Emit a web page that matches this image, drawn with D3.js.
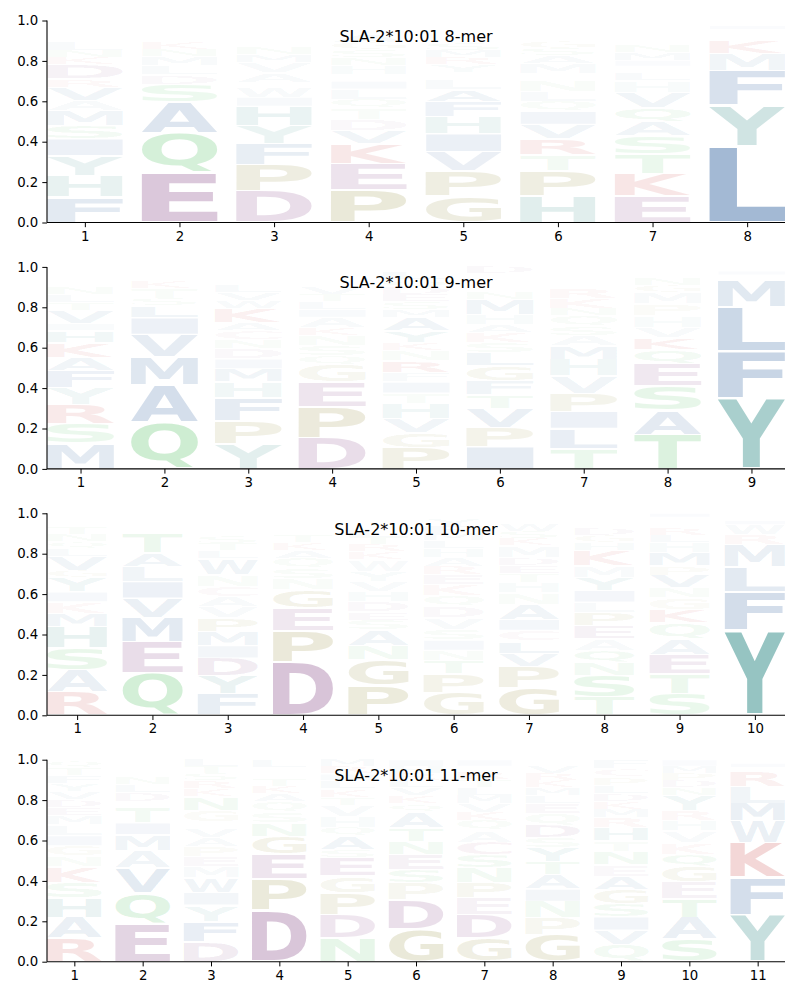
<!DOCTYPE html>
<html><head><meta charset="utf-8">
<script src="https://cdn.jsdelivr.net/npm/d3@7"></script>
<style>body{margin:0;background:#fff;} svg{display:block;}</style>
</head><body>
<svg id="chart" width="800" height="1000"></svg>
<script>
// ---------- DATA ----------
const titles = ["SLA-2*10:01 8-mer","SLA-2*10:01 9-mer","SLA-2*10:01 10-mer","SLA-2*10:01 11-mer"];
const yTicks = [0.0,0.2,0.4,0.6,0.8,1.0];
// each column: letters listed bottom -> top with their frequency
const logo8mer = [
 [["F",0.125],["H",0.105],["Y",0.10],["I",0.085],["S",0.065],["M",0.075],["A",0.05],["V",0.065],["R",0.04],["D",0.07],["K",0.035],["N",0.035],["L",0.045],["T",0.03],["G",0.025],["Q",0.025],["E",0.025]],
 [["E",0.245],["Q",0.20],["A",0.15],["S",0.09],["D",0.045],["L",0.045],["M",0.045],["N",0.035],["K",0.035],["T",0.03],["G",0.03],["R",0.025],["V",0.025]],
 [["D",0.155],["P",0.13],["F",0.105],["Y",0.09],["H",0.095],["I",0.045],["W",0.05],["R",0.025],["A",0.045],["V",0.05],["M",0.04],["N",0.035],["K",0.03],["L",0.03],["S",0.025],["T",0.02],["G",0.015],["Q",0.015]],
 [["P",0.16],["E",0.13],["K",0.10],["V",0.065],["D",0.055],["T",0.055],["Q",0.045],["L",0.05],["I",0.04],["R",0.03],["H",0.045],["N",0.04],["S",0.04],["G",0.035],["A",0.035],["M",0.03],["F",0.025],["Y",0.02]],
 [["G",0.13],["P",0.125],["V",0.095],["I",0.09],["H",0.085],["F",0.075],["A",0.06],["L",0.05],["T",0.03],["Y",0.04],["R",0.035],["M",0.035],["S",0.035],["N",0.03],["K",0.03],["E",0.03],["Q",0.025]],
 [["H",0.13],["P",0.125],["T",0.08],["R",0.08],["V",0.07],["I",0.065],["Q",0.05],["L",0.05],["N",0.055],["K",0.03],["M",0.05],["A",0.04],["S",0.035],["G",0.035],["E",0.03],["D",0.03],["F",0.025],["Y",0.02]],
 [["E",0.13],["K",0.11],["T",0.10],["S",0.09],["A",0.07],["Q",0.07],["V",0.075],["H",0.058],["L",0.04],["R",0.03],["I",0.03],["M",0.04],["N",0.035],["G",0.03],["F",0.03],["Y",0.032],["D",0.03]],
 [["L",0.38],["Y",0.20],["F",0.17],["M",0.085],["K",0.065],["W",0.03],["R",0.025],["I",0.02],["V",0.025]]
];
const logo9mer = [
 [["M",0.125],["S",0.10],["R",0.095],["Y",0.083],["F",0.083],["A",0.066],["K",0.073],["H",0.06],["I",0.035],["V",0.065],["T",0.04],["L",0.04],["N",0.035],["E",0.03],["G",0.025],["Q",0.025],["D",0.02]],
 [["Q",0.23],["A",0.185],["M",0.14],["V",0.11],["I",0.083],["L",0.06],["S",0.035],["T",0.05],["K",0.035],["E",0.03],["N",0.022],["G",0.02]],
 [["Y",0.125],["P",0.115],["F",0.11],["H",0.08],["M",0.065],["I",0.05],["D",0.05],["N",0.045],["C",0.045],["A",0.04],["K",0.07],["W",0.04],["V",0.04],["L",0.035],["S",0.03],["T",0.025],["G",0.02],["E",0.015]],
 [["D",0.155],["P",0.15],["E",0.125],["G",0.085],["Q",0.045],["S",0.05],["N",0.05],["K",0.04],["A",0.05],["I",0.04],["L",0.04],["T",0.035],["V",0.035],["M",0.03],["H",0.025],["F",0.025],["Y",0.02]],
 [["P",0.105],["G",0.075],["V",0.07],["H",0.075],["T",0.05],["I",0.055],["F",0.045],["R",0.06],["N",0.05],["K",0.04],["Y",0.06],["A",0.065],["M",0.04],["S",0.04],["E",0.035],["D",0.035],["Q",0.035],["L",0.035],["W",0.03]],
 [["I",0.11],["P",0.095],["V",0.095],["T",0.065],["F",0.07],["G",0.075],["L",0.065],["S",0.05],["K",0.05],["A",0.04],["H",0.05],["M",0.075],["N",0.035],["R",0.03],["Q",0.03],["E",0.03],["D",0.035]],
 [["T",0.10],["L",0.10],["I",0.085],["P",0.088],["V",0.086],["H",0.083],["M",0.066],["A",0.053],["S",0.046],["Q",0.05],["N",0.035],["K",0.05],["R",0.05],["E",0.03],["G",0.03],["F",0.028],["Y",0.02]],
 [["T",0.17],["A",0.12],["S",0.12],["E",0.11],["Q",0.07],["K",0.06],["V",0.05],["H",0.058],["P",0.058],["M",0.058],["G",0.035],["N",0.035],["R",0.03],["D",0.026]],
 [["Y",0.35],["F",0.23],["L",0.22],["M",0.13],["W",0.03],["I",0.02],["V",0.02]]
];
const logo10mer = [
 [["R",0.115],["A",0.11],["S",0.107],["H",0.105],["M",0.066],["K",0.058],["I",0.05],["Y",0.07],["G",0.035],["V",0.068],["L",0.04],["Q",0.035],["N",0.035],["T",0.035],["E",0.03],["D",0.021],["P",0.02]],
 [["Q",0.207],["E",0.155],["M",0.123],["V",0.095],["I",0.083],["L",0.075],["A",0.066],["T",0.10],["S",0.03],["K",0.025],["R",0.02],["G",0.021]],
 [["F",0.105],["Y",0.09],["D",0.088],["I",0.062],["M",0.07],["P",0.066],["V",0.058],["A",0.05],["C",0.05],["N",0.055],["W",0.08],["L",0.04],["T",0.035],["S",0.035],["K",0.03],["G",0.03],["Q",0.03],["E",0.026]],
 [["D",0.265],["P",0.155],["E",0.11],["G",0.09],["N",0.058],["S",0.05],["Q",0.05],["A",0.04],["K",0.035],["T",0.035],["R",0.03],["V",0.03],["L",0.027],["H",0.025]],
 [["P",0.146],["G",0.13],["N",0.07],["A",0.075],["S",0.05],["E",0.04],["D",0.05],["H",0.05],["V",0.05],["Y",0.05],["W",0.058],["K",0.04],["R",0.035],["T",0.035],["L",0.035],["Q",0.03],["M",0.03],["F",0.026]],
 [["G",0.113],["P",0.093],["T",0.066],["N",0.05],["I",0.05],["S",0.053],["V",0.058],["D",0.055],["Q",0.053],["K",0.055],["E",0.05],["R",0.041],["A",0.046],["H",0.041],["L",0.04],["M",0.035],["F",0.035],["Y",0.035],["W",0.031]],
 [["G",0.138],["P",0.103],["V",0.066],["L",0.06],["C",0.053],["I",0.055],["A",0.075],["N",0.055],["H",0.05],["T",0.045],["E",0.04],["D",0.04],["M",0.058],["K",0.035],["S",0.035],["W",0.035],["R",0.03],["Q",0.027]],
 [["T",0.088],["S",0.11],["N",0.062],["Q",0.062],["A",0.056],["E",0.066],["P",0.066],["L",0.05],["I",0.058],["Y",0.063],["M",0.058],["K",0.075],["H",0.04],["G",0.035],["D",0.035],["W",0.03],["C",0.025],["F",0.021]],
 [["S",0.105],["T",0.10],["E",0.096],["A",0.076],["Q",0.08],["K",0.066],["G",0.058],["N",0.05],["V",0.063],["P",0.046],["M",0.066],["H",0.05],["L",0.035],["R",0.035],["D",0.03],["F",0.024],["I",0.02]],
 [["Y",0.423],["F",0.19],["L",0.123],["M",0.108],["R",0.05],["W",0.05],["I",0.02],["V",0.02],["H",0.016]]
];
const logo11mer = [
 [["R",0.116],["A",0.103],["H",0.096],["S",0.078],["K",0.078],["N",0.053],["G",0.05],["I",0.05],["L",0.053],["M",0.046],["E",0.04],["D",0.04],["V",0.04],["Y",0.04],["F",0.04],["T",0.04],["Q",0.037]],
 [["E",0.19],["Q",0.15],["V",0.125],["A",0.086],["M",0.078],["I",0.058],["T",0.075],["S",0.033],["D",0.041],["L",0.04],["N",0.035],["K",0.03],["G",0.03],["R",0.029]],
 [["D",0.10],["F",0.10],["Y",0.08],["I",0.063],["W",0.071],["M",0.055],["E",0.05],["P",0.05],["A",0.045],["V",0.045],["Q",0.033],["G",0.058],["N",0.066],["K",0.04],["R",0.04],["S",0.035],["T",0.035],["L",0.034]],
 [["D",0.254],["P",0.154],["E",0.123],["G",0.09],["N",0.066],["S",0.055],["Q",0.05],["A",0.04],["K",0.035],["T",0.035],["R",0.03],["V",0.03],["L",0.038]],
 [["N",0.116],["D",0.116],["P",0.108],["G",0.083],["E",0.091],["S",0.041],["A",0.066],["Q",0.041],["H",0.055],["V",0.058],["T",0.04],["K",0.04],["L",0.04],["I",0.035],["R",0.035],["M",0.035]],
 [["G",0.16],["D",0.145],["P",0.083],["S",0.066],["E",0.075],["N",0.066],["T",0.066],["A",0.08],["Q",0.04],["K",0.04],["V",0.04],["L",0.035],["R",0.035],["H",0.035],["I",0.034]],
 [["G",0.116],["D",0.116],["E",0.083],["P",0.075],["N",0.075],["S",0.063],["C",0.063],["A",0.058],["Q",0.05],["K",0.041],["V",0.041],["M",0.041],["L",0.04],["T",0.04],["R",0.035],["H",0.03],["I",0.033]],
 [["G",0.133],["P",0.083],["N",0.083],["I",0.061],["A",0.07],["T",0.063],["Y",0.071],["S",0.05],["D",0.061],["Q",0.058],["E",0.05],["L",0.04],["M",0.04],["K",0.035],["R",0.035],["V",0.035],["H",0.032]],
 [["Q",0.083],["V",0.073],["I",0.066],["S",0.066],["G",0.071],["A",0.061],["E",0.058],["N",0.066],["T",0.053],["H",0.066],["R",0.05],["M",0.041],["K",0.04],["D",0.04],["L",0.04],["P",0.04],["C",0.04],["F",0.046]],
 [["S",0.111],["A",0.108],["T",0.091],["E",0.083],["G",0.078],["Q",0.061],["K",0.058],["V",0.058],["H",0.05],["R",0.05],["Y",0.075],["N",0.04],["D",0.035],["P",0.035],["M",0.035],["I",0.032]],
 [["Y",0.232],["F",0.186],["K",0.17],["W",0.108],["M",0.088],["L",0.083],["R",0.075],["H",0.02],["I",0.02],["V",0.018]]
];
const logos = [logo8mer, logo9mer, logo10mer, logo11mer];

// ---------- STYLE ----------
const colorOf = {
  A:"#2e609d",V:"#2e609d",I:"#2e609d",L:"#2e609d",M:"#2e609d",F:"#2e609d",W:"#2e609d",
  H:"#2b8783",Y:"#2b8783",
  D:"#7d3a7d",E:"#7d3a7d",
  P:"#8a8228",G:"#8a8228",
  N:"#43bb53",Q:"#43bb53",S:"#43bb53",T:"#43bb53",
  K:"#c02828",R:"#c02828",
  C:"#a04a7a"
};
const alphaOf = v => Math.max(0.025, Math.min(1, 1.2*v - 0.015));

const FONT = "'DejaVu Sans', 'Liberation Sans', sans-serif";
const cvs = document.createElement('canvas');
const ctx = cvs.getContext('2d');
ctx.font = "bold 200px " + FONT;
const metricCache = {};
function glyphBox(ch){
  if(!metricCache[ch]){
    const m = ctx.measureText(ch);
    metricCache[ch] = {x0:-m.actualBoundingBoxLeft, x1:m.actualBoundingBoxRight,
                       y0:-m.actualBoundingBoxAscent, y1:m.actualBoundingBoxDescent};
  }
  return metricCache[ch];
}

const svg = d3.select("#chart");
const L = 47, R = 785, H = 202, step = 246.4, top0 = 20.5;

logos.forEach((cols, pi) => {
  const n = cols.length;
  const top = top0 + pi*step;
  const x = d3.scaleLinear().domain([0.6, n + 0.4]).range([L, R]);
  const y = d3.scaleLinear().domain([0, 1]).range([top + H, top]);
  const g = svg.append("g");

  cols.forEach((col, ci) => {
    const pos = ci + 1;
    let cum = 0;
    col.forEach(([ch, v]) => {
      const y0 = cum, y1 = cum + v; cum = y1;
      const bx0 = x(pos - 0.4), bx1 = x(pos + 0.4);
      const pad = v*0.02 + 0.002;
      const by0 = y(y1 - pad), by1 = y(y0 + pad);
      const bw = bx1 - bx0, bh = Math.max(0.1, by1 - by0);
      const m = glyphBox(ch);
      const sx = bw/(m.x1 - m.x0), sy = bh/(m.y1 - m.y0);
      g.append("text")
        .attr("x", 0).attr("y", 0)
        .attr("font-family", FONT).attr("font-weight", "bold").attr("font-size", 200)
        .attr("fill", colorOf[ch]).attr("fill-opacity", alphaOf(v))
        .attr("transform", `translate(${bx0},${by0}) scale(${sx},${sy}) translate(${-m.x0},${-m.y0})`)
        .text(ch);
    });
  });

  // axes
  const xa = g.append("g").attr("transform", `translate(0,${top + H})`)
    .call(d3.axisBottom(x).tickValues(d3.range(1, n + 1)).tickFormat(d3.format("d")).tickSize(4.7).tickPadding(4));
  const ya = g.append("g").attr("transform", `translate(${L},0)`)
    .call(d3.axisLeft(y).tickValues(yTicks).tickFormat(d3.format(".1f")).tickSize(4.7).tickPadding(4));
  [xa, ya].forEach(a => {
    a.selectAll("text").attr("font-family", FONT).attr("font-size", 13.3).attr("fill", "#000");
    a.selectAll("line").attr("stroke", "#000").attr("stroke-width", 1);
    a.select(".domain").attr("stroke", "#000").attr("stroke-width", 1.1);
  });
  xa.select(".domain").attr("d", `M${L},0H${R}`);
  ya.select(".domain").attr("d", `M0,${top + H}V${top}`);

  g.append("text").attr("x", (L + R)/2).attr("y", top + 21.5)
    .attr("text-anchor", "middle").attr("font-family", FONT).attr("font-size", 16).attr("fill", "#000")
    .text(titles[pi]);
});
</script>
</body></html>
